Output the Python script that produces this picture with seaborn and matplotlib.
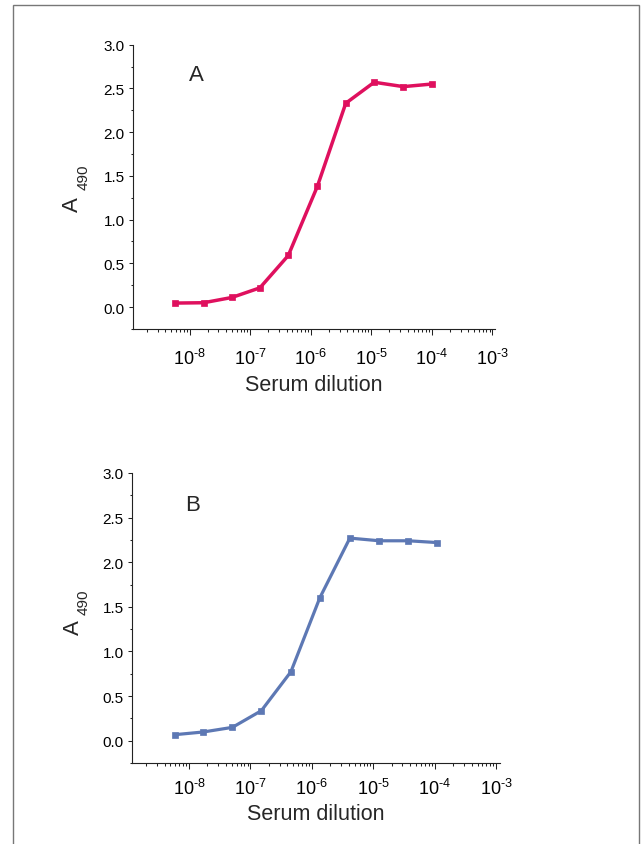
"""Two ELISA titration curves (A490 vs serum dilution)."""

import matplotlib

matplotlib.use("Agg")

import matplotlib.pyplot as plt
import matplotlib.ticker as mticker
import pandas as pd
import seaborn as sns
from matplotlib.patches import Rectangle


# values
dilution_a = [5.66e-9, 1.71e-8, 5.0e-8, 1.45e-7, 4.27e-7, 1.29e-6, 3.80e-6, 1.12e-5, 3.39e-5, 1.02e-4]
absorb_a = [0.046, 0.05, 0.11, 0.22, 0.59, 1.38, 2.33, 2.57, 2.52, 2.55]

dilution_b = [5.9e-9, 1.7e-8, 5.1e-8, 1.51e-7, 4.57e-7, 1.35e-6, 4.17e-6, 1.26e-5, 3.72e-5, 1.10e-4]
absorb_b = [0.067, 0.097, 0.149, 0.336, 0.772, 1.60, 2.27, 2.24, 2.24, 2.22]

panel_labels = ["A", "B"]
decade_ticks = [1e-8, 1e-7, 1e-6, 1e-5, 1e-4, 1e-3]
decade_labels = [r"$\mathregular{10^{\text{-}8}}$", r"$\mathregular{10^{\text{-}7}}$",
                 r"$\mathregular{10^{\text{-}6}}$", r"$\mathregular{10^{\text{-}5}}$",
                 r"$\mathregular{10^{\text{-}4}}$", r"$\mathregular{10^{\text{-}3}}$"]

sns.set_theme(style="ticks")
plt.rcParams["font.family"] = ["Liberation Sans", "DejaVu Sans"]
plt.rcParams["mathtext.fontset"] = "custom"
plt.rcParams["mathtext.rm"] = "Liberation Sans"
plt.rcParams["axes.edgecolor"] = "#222222"
plt.rcParams["axes.linewidth"] = 0.8


def draw_panel(ax, dilution, absorb, color, letter, xlim, lw, xpad, xlabelpad, ylab_pos):
    data = pd.DataFrame({"dilution": dilution, "A490": absorb})
    sns.lineplot(data=data, x="dilution", y="A490", ax=ax, color=color,
                 linewidth=lw, marker="s", markersize=4.2,
                 markeredgecolor=color, markeredgewidth=0.5)
    ax.set_xscale("log")
    ax.set_xlim(*xlim)
    ax.set_ylim(-0.25, 3.0)
    ax.set_xticks(decade_ticks)
    ax.set_xticklabels(decade_labels)
    ax.xaxis.set_minor_locator(mticker.LogLocator(base=10, subs=range(2, 10), numticks=20))
    ax.xaxis.set_minor_formatter(mticker.NullFormatter())
    ax.set_yticks([0.0, 0.5, 1.0, 1.5, 2.0, 2.5, 3.0])
    ax.set_yticklabels(["0.0", "0.5", "1.0", "1.5", "2.0", "2.5", "3.0"])
    ax.yaxis.set_minor_locator(mticker.MultipleLocator(0.25))
    ax.tick_params(axis="x", which="major", direction="out", length=4.3, width=0.75,
                   labelsize=13, pad=xpad, colors="#222222", labelcolor="black")
    ax.tick_params(axis="x", which="minor", direction="out", length=2.2, width=0.75,
                   colors="#222222")
    ax.tick_params(axis="y", which="major", direction="out", length=3.0, width=0.75,
                   labelsize=11, pad=3, colors="#222222", labelcolor="black")
    ax.tick_params(axis="y", which="minor", direction="out", length=1.8, width=0.75,
                   colors="#222222")
    ax.set_xlabel("Serum dilution", fontsize=15.5, labelpad=xlabelpad)
    ax.set_ylabel("")
    # y label "A" with a dropped subscript "490", as in the original
    ax.text(ylab_pos[0], ylab_pos[1], "A", transform=ax.transAxes, fontsize=16,
            rotation=90, ha="center", va="center")
    ax.text(ylab_pos[2], ylab_pos[3], "490", transform=ax.transAxes, fontsize=11,
            rotation=90, ha="center", va="center")
    ax.text(letter[1], letter[2], letter[0], transform=ax.transAxes, fontsize=16,
            ha="left", va="baseline")
    sns.despine(ax=ax)


fig = plt.figure(figsize=(6.41, 8.45), dpi=100)
ax_a = fig.add_axes([0.2075, 0.6095, 0.5648, 0.3365])
ax_b = fig.add_axes([0.2059, 0.0959, 0.5746, 0.3432])

draw_panel(ax_a, dilution_a, absorb_a, "#DF105E", (panel_labels[0], 0.155, 0.877),
           (10 ** -8.934, 10 ** -2.955), 2.5, 9.2, 4.6, (-0.167, 0.441, -0.136, 0.536))
draw_panel(ax_b, dilution_b, absorb_b, "#5D78B4", (panel_labels[1], 0.143, 0.873),
           (10 ** -8.928, 10 ** -2.93), 2.3, 6.4, 3.8, (-0.159, 0.469, -0.130, 0.557))

# thin grey frame around the page
fig.patches.append(Rectangle((0.0198, -0.02), 0.9775, 1.0125, transform=fig.transFigure,
                             fill=False, edgecolor="#777777", linewidth=1.0))

fig.savefig("out.png", dpi=100)
plt.close(fig)
